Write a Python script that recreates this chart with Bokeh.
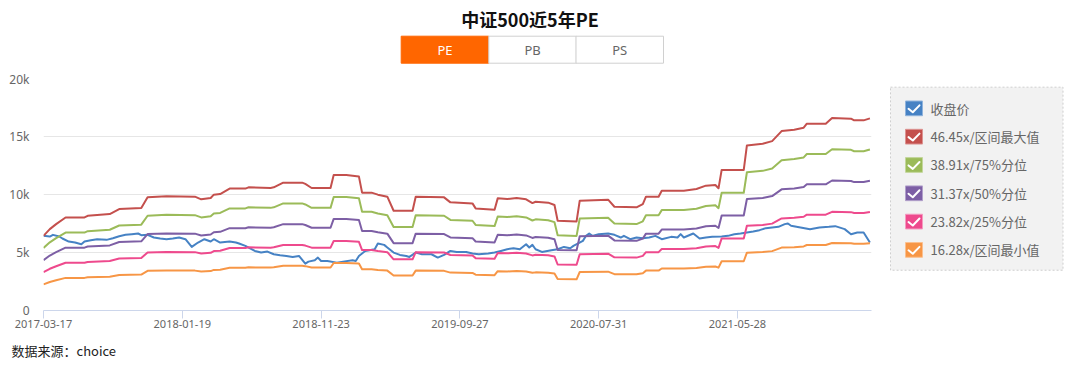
from bokeh.plotting import figure
from bokeh.models import Range1d, FixedTicker
from bokeh.layouts import column, row
from bokeh.embed import file_html
from bokeh.resources import INLINE
from bokeh.core.properties import value

# ---------------- data ----------------
title_text = "中证500近5年PE"
tab_labels = ["PE", "PB", "PS"]
source_text = "数据来源：choice"

tick_weeks = [0, 44, 88, 132, 176, 220]
tick_labels = ["2017-03-17", "2018-01-19", "2018-11-23", "2019-09-27", "2020-07-31", "2021-05-28"]
y_ticks = [0, 5000, 10000, 15000, 20000]
y_tick_labels = ["0", "5k", "10k", "15k", "20k"]

series_names = ["收盘价", "46.45x/区间最大值", "38.91x/75%分位", "31.37x/50%分位",
                "23.82x/25%分位", "16.28x/区间最小值"]
pe_levels = [46.45, 38.91, 31.37, 23.82, 16.28]

eps_week = [0, 2, 4, 7, 13, 14, 21, 24, 31, 33, 39, 48, 50, 53, 54, 56, 59, 64, 65, 72,
            73, 76, 82, 83, 85, 91, 92, 96, 100, 101, 104, 106, 109, 111, 117, 118, 127, 129, 136, 137,
            143, 144, 147, 150, 153, 155, 156, 160, 162, 163, 169, 170, 179, 181, 188, 190, 191, 195, 196, 203,
            207, 210, 213, 214, 215, 222, 223, 228, 231, 234, 238, 241, 242, 248, 250, 256, 257, 260, 262]
eps_value = [138.6, 151.0, 160.3, 172.7, 172.7, 175.8, 178.9, 188.3, 190.1, 210.0,
             211.9, 211.2, 206.3, 208.8, 215.0, 216.2, 226.2, 226.2, 228.6, 227.4,
             228.6, 237.3, 237.3, 234.9, 227.4, 227.4, 251.6, 251.6, 248.5, 218.7,
             218.7, 215.0, 211.2, 185.1, 185.1, 211.2, 210.0, 200.7, 198.8, 189.5,
             187.0, 208.1, 206.9, 208.8, 206.3, 199.4, 201.9, 200.1, 195.7, 166.5,
             165.3, 203.8, 205.7, 192.6, 191.4, 197.6, 211.2, 211.2, 222.4, 222.4,
             225.5, 231.7, 233.0, 226.8, 260.9, 260.9, 306.3, 309.4, 314.4, 333.0,
             335.5, 339.2, 346.7, 346.7, 357.2, 356.0, 352.9, 352.9, 356.6]

close_week = [0, 2, 3, 5, 6, 8, 10, 12, 13, 15, 17, 20, 22, 24, 26, 28, 30, 31, 33, 35,
              37, 39, 41, 43, 45, 47, 49, 51, 53, 54, 56, 59, 61, 62, 64, 67, 69, 71, 73, 75,
              77, 79, 81, 83, 84, 86, 87, 88, 90, 93, 95, 98, 99, 100, 102, 105, 106, 108, 109, 111,
              113, 115, 116, 118, 120, 123, 125, 127, 129, 131, 134, 136, 138, 141, 143, 145, 147, 149, 151, 153,
              154, 155, 156, 158, 161, 163, 165, 167, 168, 171, 172, 173, 174, 176, 179, 181, 183, 184, 186, 188,
              190, 192, 194, 196, 199, 201, 202, 203, 206, 208, 210, 212, 215, 217, 219, 221, 223, 225, 227, 229,
              231, 233, 235, 236, 237, 240, 243, 246, 249, 251, 254, 256, 258, 260, 262]
close_value = [6436, 6378, 6522, 6378, 6205, 5945, 5859, 5714, 5945, 6061, 6147, 6090, 6234, 6407, 6522, 6580, 6638, 6494, 6522, 6291,
               6205, 6147, 6205, 6291, 6147, 5483, 5859, 6147, 5945, 6147, 5859, 5945, 5859, 5772, 5570, 5137, 4993, 5079, 4849, 4762,
               4704, 4618, 4704, 4040, 4214, 4329, 4560, 4271, 4271, 4127, 4214, 4329, 4271, 4704, 5137, 5281, 5772, 5657, 5426, 4993,
               4791, 4704, 4618, 4993, 4849, 4849, 4560, 4791, 5137, 5050, 5050, 4906, 4849, 4906, 4993, 5137, 5281, 5368, 5281, 5714,
               5426, 5657, 5281, 5050, 5195, 5281, 5483, 5368, 5570, 6003, 6436, 6638, 6436, 6580, 6638, 6522, 6291, 6436, 6147, 6291,
               6234, 6291, 6436, 6147, 6349, 6291, 6580, 6291, 6638, 6205, 6291, 6349, 6378, 6436, 6580, 6638, 6724, 6811, 6926, 7100,
               7157, 7215, 7446, 7504, 7302, 7157, 7013, 7157, 7215, 7273, 7013, 6580, 6724, 6724, 5859]

# ---------------- styles ----------------
colors = ["#4682c4", "#c4504d", "#9bbb59", "#7d5fa5", "#ee4a8d", "#f79646"]
box_edge = ["#8fb3dc", "#dc9391", "#c3d69b", "#b09fca", "#f59bc0", "#fbc08f"]
CJK = value("Noto Sans CJK SC")
LAT = value("Noto Sans")

W = 1072
HEAD_H, MAIN_H, FOOT_H = 70, 268, 24
MAIN_W, LEG_W = 886, 186


def blank(w, h):
    f = figure(width=w, height=h, x_range=Range1d(0, w), y_range=Range1d(h, 0),
               output_backend="svg", toolbar_location=None,
               x_axis_location=None, y_axis_location=None, min_border=0)
    f.outline_line_color = None
    f.xgrid.visible = False
    f.ygrid.visible = False
    f.background_fill_color = "white"
    f.border_fill_color = "white"
    return f


# ---------------- header: title + tabs ----------------
hd = blank(W, HEAD_H)
hd.text(x=[529.5], y=[18.5], text=[title_text], text_align="center", text_baseline="middle",
        text_font=CJK, text_font_style="bold", text_font_size="18px", text_color="#111111")
tab_left = [400.7, 488.3, 575.5]
tab_w = 87.5
hd.quad(left=tab_left, right=[l + tab_w for l in tab_left], top=35.7, bottom=62.7,
        fill_color=["#ff6600", "white", "white"],
        line_color=["#ff6600", "#d0d0d0", "#d0d0d0"], line_width=1)
hd.text(x=[l + tab_w / 2 for l in tab_left], y=[49.5] * 3, text=tab_labels,
        text_align="center", text_baseline="middle", text_font=LAT, text_font_size="13px",
        text_color=["white", "#666666", "#666666"])

# ---------------- main chart ----------------
p = figure(width=MAIN_W, height=MAIN_H, x_range=Range1d(0, 262.5), y_range=Range1d(0, 20000),
           output_backend="svg", toolbar_location=None,
           min_border_left=43, min_border_right=15, min_border_top=8, min_border_bottom=28)
p.outline_line_color = None
p.background_fill_color = "white"
p.border_fill_color = "white"
p.xgrid.visible = False
p.ygrid.ticker = FixedTicker(ticks=y_ticks)
p.ygrid.grid_line_color = "#e6e6e6"
p.ygrid.grid_line_width = 1

p.yaxis.ticker = FixedTicker(ticks=y_ticks)
p.yaxis.major_label_overrides = {t: l for t, l in zip(y_ticks, y_tick_labels)}
p.yaxis.axis_line_color = None
p.yaxis.major_tick_line_color = None
p.yaxis.minor_tick_line_color = None
p.yaxis.major_tick_out = 0
p.yaxis.major_tick_in = 0
p.yaxis.major_label_standoff = 14
p.yaxis.major_label_text_font = "Noto Sans"
p.yaxis.major_label_text_font_size = "12px"
p.yaxis.major_label_text_color = "#666666"

p.xaxis.ticker = FixedTicker(ticks=tick_weeks)
p.xaxis.major_label_overrides = {t: l for t, l in zip(tick_weeks, tick_labels)}
p.xaxis.axis_line_color = "#ccd6eb"
p.xaxis.major_tick_line_color = "#ccd6eb"
p.xaxis.minor_tick_line_color = None
p.xaxis.major_tick_out = 8
p.xaxis.major_tick_in = 0
p.xaxis.major_label_standoff = 1
p.xaxis.major_label_text_font = "Noto Sans"
p.xaxis.major_label_text_font_size = "11px"
p.xaxis.major_label_text_color = "#666666"

p.line(close_week, close_value, line_color=colors[0], line_width=2, line_join="round")
for k, m in enumerate(pe_levels):
    band = [m * e for e in eps_value]
    p.line(eps_week, band, line_color=colors[k + 1], line_width=2, line_join="round")

# ---------------- legend panel ----------------
lg = blank(LEG_W, MAIN_H)
lg.quad(left=[4], right=[176.5], top=[10], bottom=[221.5], fill_color="#f2f2f2",
        line_color="#cfcfcf", line_dash="2 2", line_width=1)
cy = [34.5 + 32.7 * k for k in range(6)]
lg.rect(x=[27.5] * 6, y=cy, width=17, height=17, fill_color=colors, line_color=box_edge, line_width=1)
lg.multi_line(xs=[[22, 26.3, 33] for _ in cy], ys=[[c + 0.5, c + 4.5, c - 3.5] for c in cy],
              line_color="white", line_width=2, line_join="round", line_cap="round")
lg.text(x=[44] * 6, y=cy, text=series_names, text_baseline="middle", text_font=CJK,
        text_font_size="13px", text_color="#666666")

# ---------------- footer ----------------
ft = blank(W, FOOT_H)
ft.text(x=[11], y=[12], text=[source_text], text_baseline="middle", text_font=CJK,
        text_font_size="13px", text_color="#222222")

layout = column(hd, row(p, lg), ft)
open("out.html", "w").write(file_html(layout, INLINE))
